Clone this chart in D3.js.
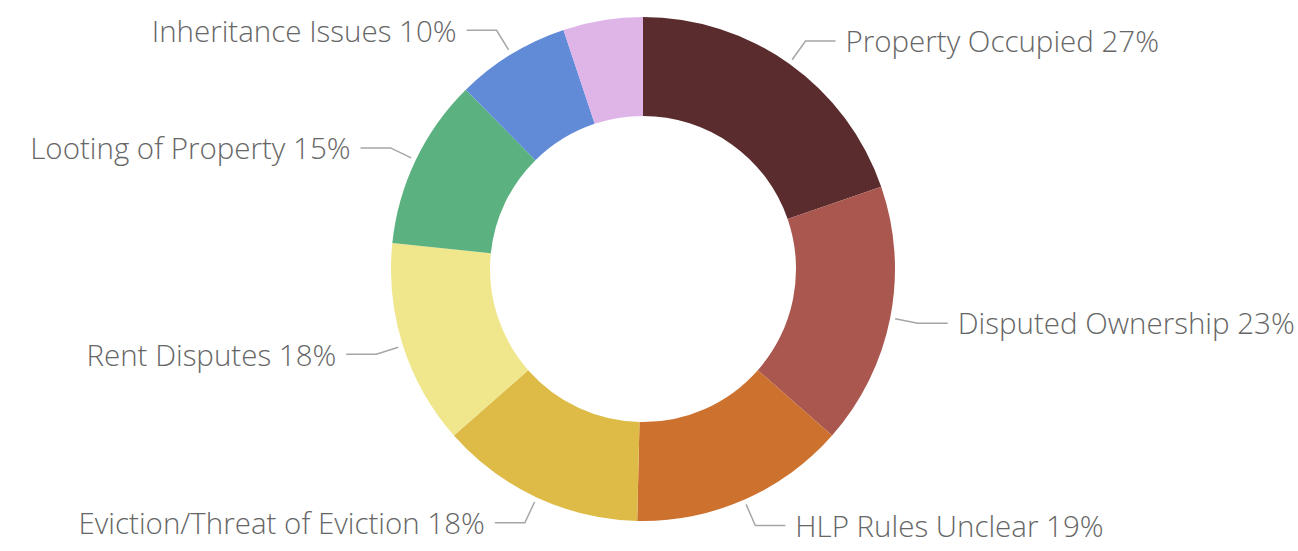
<!DOCTYPE html>
<html lang="en">
	<head>
		<meta charset="utf-8">
		<script type="text/javascript" src="https://d3js.org/d3.v7.min.js"></script>
		<style type="text/css">
			body { margin: 0; background: #fff; }
			.label { font-family: "Open Sans", "Noto Sans", sans-serif; font-weight: 300; fill: #666666; }
		</style>
	</head>
	<body>
		<script type="text/javascript">

			// Chart data (the last slice has no label shown).
			var categories = ["Property Occupied", "Disputed Ownership", "HLP Rules Unclear",
				"Eviction/Threat of Eviction", "Rent Disputes", "Looting of Property",
				"Inheritance Issues", "Other"];
			var values = [27, 23, 19, 18, 18, 15, 10, 7];
			var showLabel = [true, true, true, true, true, true, true, false];
			var colors = ["#5b2c2e", "#a9574f", "#cd712e", "#ddbb46",
				"#f0e68c", "#5bb17f", "#618bd7", "#dfb5e8"];

			// Width and height of the page.
			var w = 1298;
			var h = 551;
			var cx = 643, cy = 269;
			var outerR = 252, innerR = 153;

			var svg = d3.select("body")
						.append("svg")
						.attr("width", w)
						.attr("height", h);

			var g = svg.append("g")
				.attr("transform", "translate(" + cx + "," + cy + ")");

			var color = d3.scaleOrdinal()
				.domain(categories)
				.range(colors);

			var pie = d3.pie()
				.sort(null)
				.value(function(d, i) { return values[i]; });

			var arc = d3.arc()
				.innerRadius(innerR)
				.outerRadius(outerR);

			var arcs = pie(categories);

			// Slices.
			g.selectAll("path.slice")
				.data(arcs)
				.enter()
				.append("path")
				.attr("class", "slice")
				.attr("d", arc)
				.attr("fill", function(d) { return color(d.data); });

			// Leader lines: a short diagonal out from the slice, then a flat run to the label.
			var startArc = d3.arc().innerRadius(outerR + 5).outerRadius(outerR + 5);
			var elbowArc = d3.arc().innerRadius(outerR + 28).outerRadius(outerR + 28);

			var labelled = arcs.filter(function(d) { return showLabel[d.index]; });

			function side(d) {
				return (d.startAngle + d.endAngle) / 2 < Math.PI ? 1 : -1;
			}

			g.selectAll("polyline")
				.data(labelled)
				.enter()
				.append("polyline")
				.attr("fill", "none")
				.attr("stroke", "#a6a6a6")
				.attr("stroke-width", 1.5)
				.attr("points", function(d) {
					var a = startArc.centroid(d);
					var b = elbowArc.centroid(d);
					var c = [b[0] + side(d) * 30, b[1]];
					return [a, b, c].join(" ");
				});

			g.selectAll("text.label")
				.data(labelled)
				.enter()
				.append("text")
				.attr("class", "label")
				.attr("x", function(d) { return elbowArc.centroid(d)[0] + side(d) * 40; })
				.attr("y", function(d) { return elbowArc.centroid(d)[1]; })
				.attr("dy", "0.38em")
				.attr("font-size", 29.5)
				.attr("text-anchor", function(d) { return side(d) > 0 ? "start" : "end"; })
				.text(function(d) { return d.data + " " + values[d.index] + "%"; });

		</script>
	</body>
</html>
